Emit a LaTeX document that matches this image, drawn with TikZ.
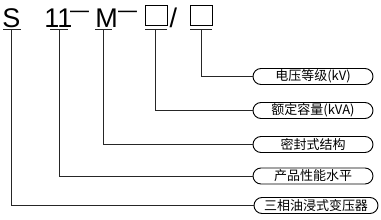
\documentclass[tikz,border=0pt]{standalone}
\usepackage{fontspec}
\setmainfont{Liberation Sans}
\newfontfamily\cjk{Noto Sans CJK SC}

\tikzset{
  sym/.style={inner sep=0pt, anchor=base, font=\fontsize{27}{27}\selectfont},
  dashsym/.style={inner sep=0pt, anchor=base, font=\fontsize{22}{22}\selectfont},
  slot/.style={draw, line width=1pt, minimum width=22pt, minimum height=20pt, inner sep=0pt},
  pill/.style={draw, line width=0.9pt, rounded corners=8pt, minimum width=120pt,
    minimum height=16pt, inner sep=0pt, font=\cjk\fontsize{13}{13}\selectfont},
  uline/.style={line width=0.9pt, black!85},
  lead/.style={line width=0.9pt, black!85}
}

\begin{document}
\begin{tikzpicture}[x=1pt, y=-1pt]
  \useasboundingbox (0,0) rectangle (381,220);
  % --- model code ---
  \node[sym] (s) at (11.5,27) {S};
  \node[sym] (n11) at (58.5,27) {11};
  \node[dashsym] (d1) at (79.5,17) {\scalebox{1.55}[1]{–}};
  \node[sym] (m) at (106.5,27) {M};
  \node[dashsym] (d2) at (127.5,17) {\scalebox{1.55}[1]{–}};
  \node[slot] (b1) at (156.5,15) {};
  \node[sym] (sl) at (173.5,27) {/};
  \node[slot] (b2) at (201,15) {};
  % --- underlines ---
  \draw[uline] (3,29.5) -- (21,29.5);
  \draw[uline] (50,29.5) -- (68,29.5);
  \draw[uline] (95,29.5) -- (112,29.5);
  \draw[uline] (145,29.5) -- (167,29.5);
  \draw[uline] (190,29.5) -- (212,29.5);
  \coordinate (s0) at (11.5,29.5);
  \coordinate (n0) at (59.5,29.5);
  \coordinate (m0) at (103.5,29.5);
  \coordinate (b10) at (155,29.5);
  \coordinate (b20) at (201.5,29.5);
  % --- meanings ---
  \node[pill] (p1) at (313,76.5) {电压等级(kV)};
  \node[pill] (p2) at (313,110.5) {额定容量(kVA)};
  \node[pill] (p3) at (313,144.5) {密封式结构};
  \node[pill] (p4) at (313,176) {产品性能水平};
  \node[pill, minimum width=124pt] (p5) at (316,205.5) {三相油浸式变压器};
  % --- leads ---
  \draw[lead] (b20) |- (p1.west);
  \draw[lead] (b10) |- (p2.west);
  \draw[lead] (m0) |- (p3.west);
  \draw[lead] (n0) |- (p4.west);
  \draw[lead] (s0) |- (p5.west);
\end{tikzpicture}
\end{document}
